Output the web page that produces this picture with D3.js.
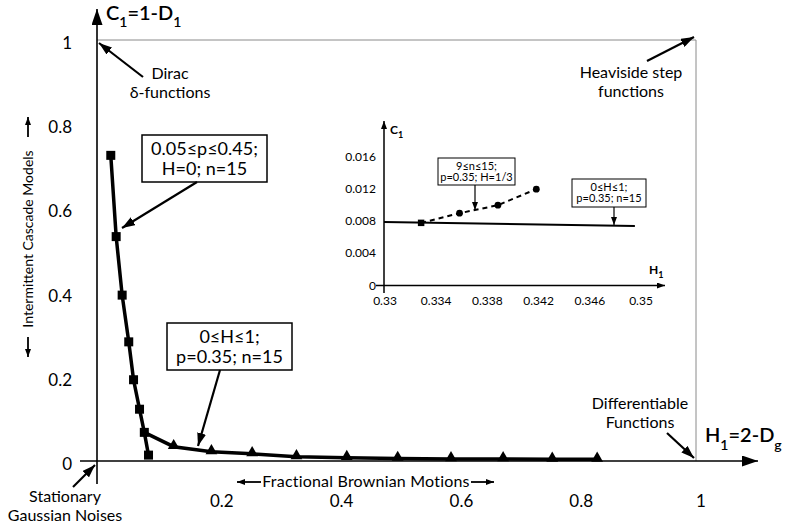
<!DOCTYPE html>
<html>
<head>
<meta charset="utf-8">
<script src="https://cdn.jsdelivr.net/npm/d3@7"></script>
<style>
  body { margin: 0; background: #fff; }
  text { font-family: Lato, "Open Sans", sans-serif; fill: #000; }
</style>
</head>
<body>
<div id="chart"></div>
<script>
// 0.05<=p<=0.45; H=0; n=15  (squares)
const cascadeH1 = [0.023, 0.032, 0.042, 0.053, 0.061, 0.071, 0.079, 0.086];
const cascadeC1 = [0.726, 0.533, 0.394, 0.283, 0.193, 0.123, 0.068, 0.014];
// 0<=H<=1; p=0.35; n=15  (triangles, starts on a square)
const fbmH1 = [0.079, 0.128, 0.191, 0.259, 0.333, 0.417, 0.502, 0.591, 0.678, 0.760, 0.835];
const fbmC1 = [0.068, 0.034, 0.022, 0.017, 0.010, 0.008, 0.006, 0.005, 0.005, 0.004, 0.004];

// inset
const insetNH1 = [0.3329, 0.3359, 0.3389, 0.3419];
const insetNC1 = [0.0078, 0.0090, 0.0100, 0.0120];
const insetHH1 = [0.33, 0.3496];
const insetHC1 = [0.0079, 0.0074];

const xTicks = [0.2, 0.4, 0.6, 0.8, 1];
const yTicks = [0, 0.2, 0.4, 0.6, 0.8, 1];
const insetXTicks = [0.33, 0.334, 0.338, 0.342, 0.346, 0.35];
const insetYTicks = [0, 0.004, 0.008, 0.012, 0.016];

const width = 785, height = 527;

const svg = d3.select("#chart").append("svg")
  .attr("width", width)
  .attr("height", height);

const x = d3.scaleLinear().domain([0, 1]).range([97, 696]);
const y = d3.scaleLinear().domain([0, 1]).range([461, 40]);
const ix = d3.scaleLinear().domain([0.33, 0.35]).range([384, 640]);
const iy = d3.scaleLinear().domain([0, 0.016]).range([285.5, 157]);

// arrow heads
const defs = svg.append("defs");
function addMarker(id, len, wid) {
  defs.append("marker")
    .attr("id", id)
    .attr("markerUnits", "userSpaceOnUse")
    .attr("viewBox", `0 ${-wid / 2} ${len} ${wid}`)
    .attr("refX", len)
    .attr("refY", 0)
    .attr("markerWidth", len)
    .attr("markerHeight", wid)
    .attr("orient", "auto")
    .append("path")
    .attr("d", `M0,${-wid / 2}L${len},0L0,${wid / 2}Z`)
    .attr("fill", "#000");
}
addMarker("axisHead", 16, 11);
addMarker("head", 13, 9);
addMarker("smallHead", 8, 6);

function arrow(x1, y1, x2, y2, w, m) {
  svg.append("line")
    .attr("x1", x1).attr("y1", y1).attr("x2", x2).attr("y2", y2)
    .attr("stroke", "#000")
    .attr("stroke-width", w)
    .attr("marker-end", `url(#${m})`);
}

// frame lines to (1,1)
svg.append("line")
  .attr("x1", x(0)).attr("x2", x(1)).attr("y1", y(1)).attr("y2", y(1))
  .attr("stroke", "#8a8a8a").attr("stroke-width", 1);
svg.append("line")
  .attr("x1", x(1)).attr("x2", x(1)).attr("y1", y(1)).attr("y2", y(0))
  .attr("stroke", "#8a8a8a").attr("stroke-width", 1);

// main axes
arrow(x(0), 484, x(0), 9, 1.6, "axisHead");
arrow(80, y(0), 758, y(0), 1.6, "axisHead");

svg.append("g").selectAll("text")
  .data(xTicks)
  .join("text")
  .attr("x", (d) => x(d) + 5)
  .attr("y", 507)
  .attr("text-anchor", "middle")
  .style("font-size", "17px")
  .text((d) => d3.format("")(d));

svg.append("g").selectAll("text")
  .data(yTicks)
  .join("text")
  .attr("x", 72)
  .attr("y", (d) => y(d) + 9)
  .attr("text-anchor", "end")
  .style("font-size", "17px")
  .text((d) => d3.format("")(d));

// axis titles
const c1 = svg.append("text").attr("x", 106).attr("y", 20).style("font-size", "20px").style("font-weight", 600);
c1.append("tspan").text("C");
c1.append("tspan").attr("dy", 7).style("font-size", "14px").text("1");
c1.append("tspan").attr("dy", -7).text("=1-D");
c1.append("tspan").attr("dy", 7).style("font-size", "14px").text("1");

const h1 = svg.append("text").attr("x", 705).attr("y", 442).style("font-size", "20px").style("font-weight", 600);
h1.append("tspan").text("H");
h1.append("tspan").attr("dy", 8).style("font-size", "14px").text("1");
h1.append("tspan").attr("dy", -8).text("=2-D");
h1.append("tspan").attr("dy", 8).style("font-size", "14px").text("g");

// vertical label
svg.append("text")
  .attr("transform", "translate(33,239) rotate(-90)")
  .attr("text-anchor", "middle")
  .style("font-size", "14px")
  .text("Intermittent Cascade Models");
arrow(28, 137, 28, 117, 1.8, "smallHead");
arrow(28, 337, 28, 357, 1.8, "smallHead");

// series lines
const line = d3.line().x((d) => x(d[0])).y((d) => y(d[1]));
const cascade = d3.zip(cascadeH1, cascadeC1);
const fbm = d3.zip(fbmH1, fbmC1);

svg.append("path").datum(fbm).attr("d", line)
  .attr("fill", "none").attr("stroke", "#000").attr("stroke-width", 3.5);
svg.append("path").datum(cascade).attr("d", line)
  .attr("fill", "none").attr("stroke", "#000").attr("stroke-width", 3.5);

svg.append("g").selectAll("path")
  .data(fbm.slice(1))
  .join("path")
  .attr("transform", (d) => `translate(${x(d[0])},${y(d[1]) - 1})`)
  .attr("d", d3.symbol(d3.symbolTriangle, 60))
  .attr("fill", "#000");

svg.append("g").selectAll("rect")
  .data(cascade)
  .join("rect")
  .attr("x", (d) => x(d[0]) - 4.5)
  .attr("y", (d) => y(d[1]) - 4.5)
  .attr("width", 9)
  .attr("height", 9)
  .attr("fill", "#000");

// annotation boxes
function box(x0, y0, w, h, lines, size, lh, sw) {
  svg.append("rect")
    .attr("x", x0).attr("y", y0).attr("width", w).attr("height", h)
    .attr("fill", "#fff").attr("stroke", "#000").attr("stroke-width", sw);
  svg.append("text")
    .attr("x", x0 + w / 2)
    .attr("y", y0)
    .attr("text-anchor", "middle")
    .style("font-size", size + "px")
    .selectAll("tspan")
    .data(lines)
    .join("tspan")
    .attr("x", x0 + w / 2)
    .attr("y", (d, i) => y0 + lh * (i + 1))
    .text((d) => d);
}

box(142, 135, 125, 47, ["0.05≤p≤0.45;", "H=0; n=15"], 18, 20, 1.5);
arrow(197, 182, 122, 228, 2.2, "head");
box(167, 323, 125, 47, ["0≤H≤1;", "p=0.35; n=15"], 18, 20, 1.5);
arrow(220, 370, 198, 446, 2.2, "head");

// corner notes
function note(cx, cy, lines, size, lh) {
  svg.append("text")
    .attr("text-anchor", "middle")
    .style("font-size", size + "px")
    .selectAll("tspan")
    .data(lines)
    .join("tspan")
    .attr("x", cx)
    .attr("y", (d, i) => cy + lh * i)
    .text((d) => d);
}
note(170, 79, ["Dirac", "δ-functions"], 16, 19);
arrow(143, 77, 99, 43, 2.2, "head");
note(631, 78, ["Heaviside step", "functions"], 16, 19);
arrow(647, 61, 694, 37, 2.2, "head");
note(640, 409, ["Differentiable", "Functions"], 16, 19);
arrow(667, 433, 694, 458, 2.2, "head");
note(65, 502, ["Stationary", "Gaussian Noises"], 16, 19);
arrow(73, 487, 95, 465, 2.2, "head");

svg.append("text")
  .attr("x", 366).attr("y", 487)
  .attr("text-anchor", "middle")
  .style("font-size", "16px")
  .style("letter-spacing", "0.2px")
  .text("Fractional Brownian Motions");
arrow(261, 482, 237, 482, 1.8, "smallHead");
arrow(471, 482, 494, 482, 1.8, "smallHead");

// inset
arrow(ix(0.33), 293, ix(0.33), 121, 1.5, "smallHead");
arrow(376, iy(0), 665, iy(0), 1.5, "smallHead");

svg.append("g").selectAll("text")
  .data(insetXTicks)
  .join("text")
  .attr("x", (d) => ix(d) + 1)
  .attr("y", 305)
  .attr("text-anchor", "middle")
  .style("font-size", "12px")
  .text((d) => d);

svg.append("g").selectAll("text")
  .data(insetYTicks)
  .join("text")
  .attr("x", 376)
  .attr("y", (d) => iy(d) + 4)
  .attr("text-anchor", "end")
  .style("font-size", "12px")
  .text((d) => d);

const ic = svg.append("text").attr("x", 390).attr("y", 134).style("font-size", "12px").style("font-weight", 700);
ic.append("tspan").text("C");
ic.append("tspan").attr("dy", 4).style("font-size", "9px").text("1");
const ih = svg.append("text").attr("x", 649).attr("y", 274).style("font-size", "12px").style("font-weight", 700);
ih.append("tspan").text("H");
ih.append("tspan").attr("dy", 4).style("font-size", "9px").text("1");

const iline = d3.line().x((d) => ix(d[0])).y((d) => iy(d[1]));
svg.append("path").datum(d3.zip(insetHH1, insetHC1)).attr("d", iline)
  .attr("fill", "none").attr("stroke", "#000").attr("stroke-width", 2);
const insetN = d3.zip(insetNH1, insetNC1);
svg.append("path").datum(insetN).attr("d", iline)
  .attr("fill", "none").attr("stroke", "#000").attr("stroke-width", 2)
  .attr("stroke-dasharray", "5,4");
svg.append("g").selectAll("path")
  .data(insetN)
  .join("path")
  .attr("transform", (d) => `translate(${ix(d[0])},${iy(d[1])})`)
  .attr("d", (d, i) => d3.symbol(i === 0 ? d3.symbolSquare : d3.symbolCircle, i === 0 ? 42 : 36)())
  .attr("fill", "#000");

box(438, 158, 77, 27, ["9≤n≤15;", "p=0.35; H=1/3"], 11, 11.5, 1);
arrow(475, 185, 475, 210, 1.2, "smallHead");
box(572, 179, 74, 28, ["0≤H≤1;", "p=0.35; n=15"], 11, 11.5, 1);
arrow(614, 207, 614, 225, 1.2, "smallHead");
</script>
</body>
</html>
